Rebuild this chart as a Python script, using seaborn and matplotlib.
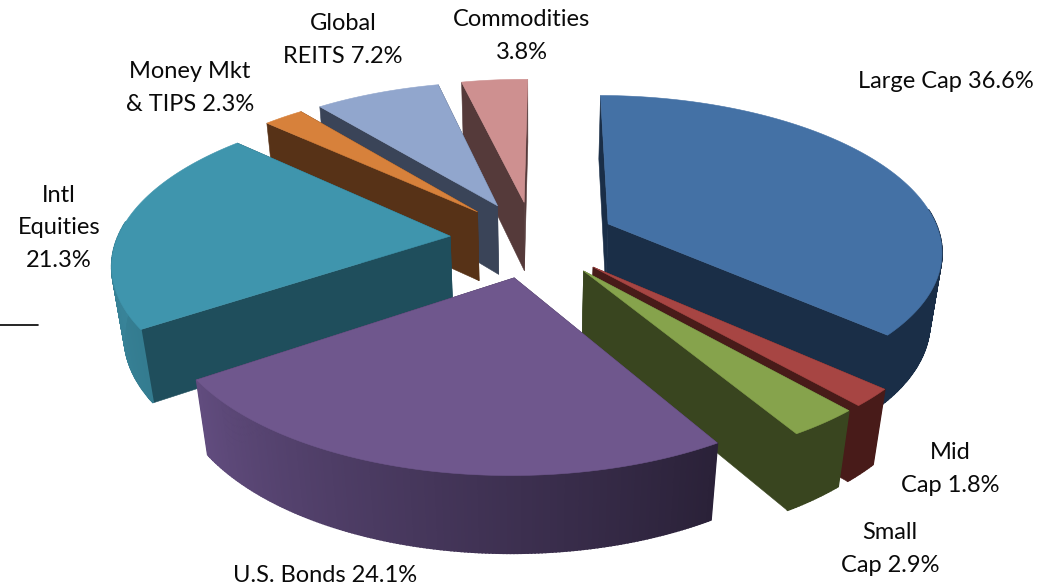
"""
Exploded 3D-look pie of the portfolio allocation, seaborn palettes + matplotlib polygons
"""
import numpy as np
import matplotlib
matplotlib.use('Agg')
import matplotlib.pyplot as plt
import seaborn as sns

# share of each slice, clockwise from the top
names = ['Large Cap', 'Mid Cap', 'Small Cap', 'U.S. Bonds', 'Intl Equities',
         'Money Mkt & TIPS', 'Global REITS', 'Commodities']
shares = [36.6, 1.8, 2.9, 24.1, 21.3, 2.3, 7.2, 3.8]

top_colors = ['#4471A5', '#A74543', '#86A34C', '#6F578D', '#3F95AD', '#D7813B', '#91A6CD', '#CE9090']
face_colors = ['#1A2E47', '#481B19', '#39451F', '#3A2D4C', '#1F4E5C', '#573217', '#3A4458', '#553A3A']
# rim colour at the clockwise start and end of each slice
rim_start = ['#1A2E47', '#481B19', '#39451F', '#2A2138', '#347C90', '#573217', '#3A4458', '#553A3A']
rim_end = ['#1A2E47', '#481B19', '#39451F', '#614C7E', '#3F8FA6', '#573217', '#3A4458', '#553A3A']

label_texts = ['Large Cap 36.6%', 'Mid\nCap 1.8%', 'Small\nCap 2.9%', 'U.S. Bonds 24.1%',
               'Intl\nEquities\n21.3%', 'Money Mkt\n& TIPS 2.3%', 'Global\nREITS 7.2%', 'Commodities\n3.8%']
label_x = [946, 950, 890, 325, 59, 190, 343, 522]
label_y = [82, 469, 549, 576, 228, 88, 40, 36]

# view of the pie
start_angle = 0.5
explode = 0.25
center = (533, 239)
scale_x, scale_y = 333, 153
persp_y, persp_z = 0.157, 0.03
depth = 72


def project(x, y, z):
    w = 1 + persp_y * y + persp_z * z
    return center[0] + scale_x * x / w, center[1] + (-scale_y * y + depth * z) / w


def draw(ax, xs, ys, z0, z1, color, order, lw=0.4):
    # vertical strip between z0 and z1 along the points xs, ys
    px0, py0 = project(xs, ys, z0)
    px1, py1 = project(xs[::-1], ys[::-1], z1)
    ax.fill(np.r_[px0, px1], np.r_[py0, py1], color=color, lw=lw, zorder=order)


sns.set_theme(style='white')
plt.rcParams['font.family'] = ['Lato', 'DejaVu Sans']

fig = plt.figure(figsize=(10.4, 5.86), dpi=100)
ax = fig.add_axes([0, 0, 1, 1])
ax.set_xlim(0, 1040)
ax.set_ylim(586, 0)
ax.axis('off')

edges = start_angle + np.r_[0, np.cumsum(shares)] * 3.6
# back slices first, front ones over them
paint_order = [7, 6, 5, 0, 4, 1, 2, 3]
for rank, i in enumerate(paint_order):
    a0, a1 = edges[i], edges[i + 1]
    mid = np.radians((a0 + a1) / 2)
    ox, oy = explode * np.sin(mid), explode * np.cos(mid)
    theta = np.radians(np.linspace(a0, a1, max(int(a1 - a0) * 2, 4)))
    rx, ry = ox + np.sin(theta), oy + np.cos(theta)
    base = rank * 10

    # two cut faces
    draw(ax, np.array([ox, rx[0]]), np.array([oy, ry[0]]), 0, 1, face_colors[i], base)
    draw(ax, np.array([ox, rx[-1]]), np.array([oy, ry[-1]]), 0, 1, face_colors[i], base + 1)

    # rim as thin strips with a gradient, only the part facing the viewer
    rim = sns.blend_palette([rim_start[i], rim_end[i]], len(theta) - 1)
    for j in range(len(theta) - 1):
        if np.cos(theta[j]) < 0.1 and np.cos(theta[j + 1]) < 0.1:
            draw(ax, rx[j:j + 2], ry[j:j + 2], 0, 1, rim[j], base + 2, lw=1.2)

    # top surface
    tx, ty = project(np.r_[ox, rx], np.r_[oy, ry], 0)
    ax.fill(tx, ty, color=top_colors[i], lw=0.4, zorder=base + 3)

for txt, lx, ly in zip(label_texts, label_x, label_y):
    ax.text(lx, ly, txt, ha='center', va='center', fontsize=17, color='#0A0A0A',
            linespacing=1.68, zorder=200)

# stray rule at the left edge of the source
ax.plot([0, 38], [325, 325], color='black', lw=1.2)

fig.savefig('out.png', dpi=100)
